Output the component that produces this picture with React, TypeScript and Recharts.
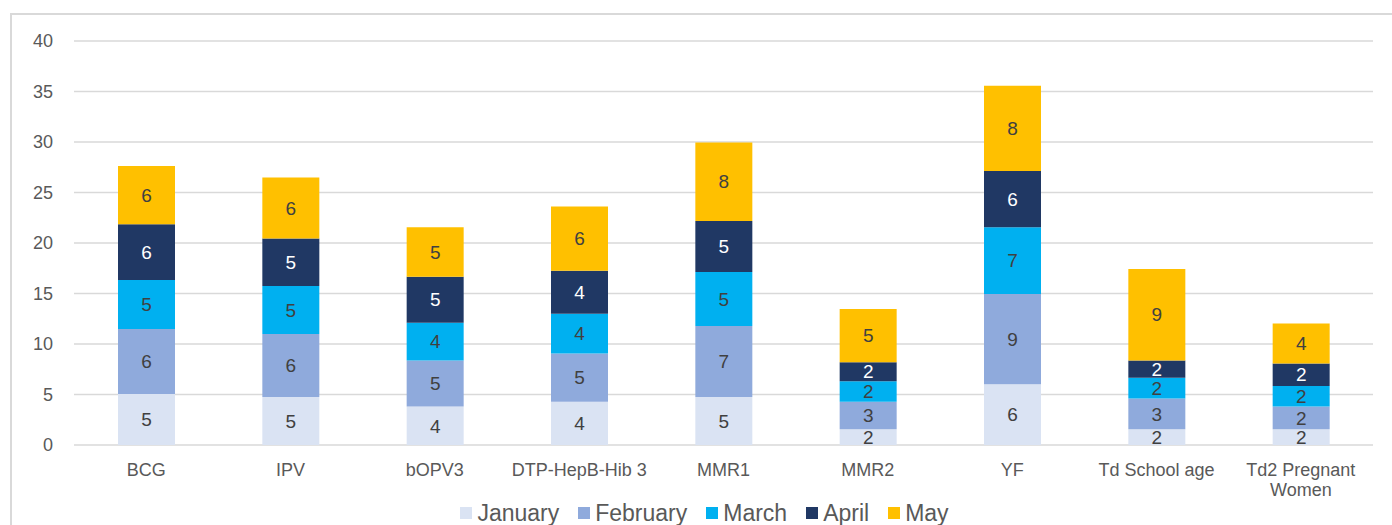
import { BarChart, Bar, XAxis, YAxis, CartesianGrid, Legend, LabelList, Text } from 'recharts';

const categories = ['BCG', 'IPV', 'bOPV3', 'DTP-HepB-Hib 3', 'MMR1', 'MMR2', 'YF', 'Td School age', 'Td2 Pregnant Women'];
const january = [5.06, 4.76, 3.81, 4.27, 4.76, 1.56, 6.02, 1.56, 1.56];
const february = [6.42, 6.22, 4.55, 4.8, 7.02, 2.71, 8.93, 3.04, 2.25];
const march = [4.86, 4.76, 3.74, 3.93, 5.35, 2.05, 6.62, 2.05, 2.04];
const april = [5.52, 4.7, 4.57, 4.26, 5.06, 1.88, 5.55, 1.72, 2.23];
const may = [5.76, 6.05, 4.9, 6.35, 7.77, 5.26, 8.45, 9.06, 3.96];
const yTicks = [0, 5, 10, 15, 20, 25, 30, 35, 40];

const series = [
  { key: 'january', name: 'January', color: '#dae3f3', label: '#404040' },
  { key: 'february', name: 'February', color: '#8faadc', label: '#404040' },
  { key: 'march', name: 'March', color: '#00b0f0', label: '#404040' },
  { key: 'april', name: 'April', color: '#203864', label: '#ffffff' },
  { key: 'may', name: 'May', color: '#ffc000', label: '#404040' },
];

const data = categories.map((c, i) => ({
  name: c,
  january: january[i],
  february: february[i],
  march: march[i],
  april: april[i],
  may: may[i],
}));

const FONT = '"Liberation Sans", Arial, sans-serif';

const XTick = (props: any) => {
  const { x, y, payload } = props;
  return (
    <Text x={x} y={y} width={140} textAnchor="middle" verticalAnchor="start" fontSize={18} fill="#595959" lineHeight={20} fontFamily={FONT}>
      {payload.value}
    </Text>
  );
};

const LegendBox = () => (
  <div style={{ display: 'flex', justifyContent: 'center', alignItems: 'center', height: 24, paddingLeft: 36, fontFamily: FONT }}>
    {series.map((s) => (
      <div key={s.key} style={{ display: 'flex', alignItems: 'center', marginRight: 19 }}>
        <span style={{ width: 12, height: 12, background: s.color, display: 'inline-block', marginRight: 5 }} />
        <span style={{ fontSize: 23, color: '#595959', lineHeight: '24px' }}>{s.name}</span>
      </div>
    ))}
  </div>
);

export default function App() {
  return (
    <div style={{ position: 'absolute', left: 0, top: 0, width: 1392, height: 525, background: '#fff', overflow: 'hidden', fontFamily: FONT }}>
      <div style={{ position: 'absolute', left: 10, top: 13, right: -4, bottom: -4, borderLeft: '2px solid #d9d9d9', borderTop: '2px solid #d9d9d9' }} />
      <BarChart width={1392} height={525} data={data} margin={{ top: 41, right: 19, left: 0, bottom: 0 }} barSize={57}>
        <CartesianGrid vertical={false} stroke="#d9d9d9" strokeWidth={1.5} />
        <XAxis dataKey="name" axisLine={false} tickLine={false} tickMargin={12} height={56} interval={0} tick={<XTick />} />
        <YAxis
          domain={[0, 40]}
          ticks={yTicks}
          width={74}
          axisLine={false}
          tickLine={false}
          tickMargin={15}
          tick={{ fontSize: 18, fill: '#595959', fontFamily: FONT }}
        />
        <Legend verticalAlign="bottom" content={<LegendBox />} wrapperStyle={{ left: 0, width: 1392, height: 24 }} />
        {series.map((s) => (
          <Bar key={s.key} dataKey={s.key} name={s.name} stackId="a" fill={s.color} isAnimationActive={false}>
            <LabelList
              dataKey={s.key}
              position="center"
              formatter={(v: any) => Math.round(Number(v))}
              fill={s.label}
              fontSize={19}
              fontFamily={FONT}
            />
          </Bar>
        ))}
      </BarChart>
    </div>
  );
}
